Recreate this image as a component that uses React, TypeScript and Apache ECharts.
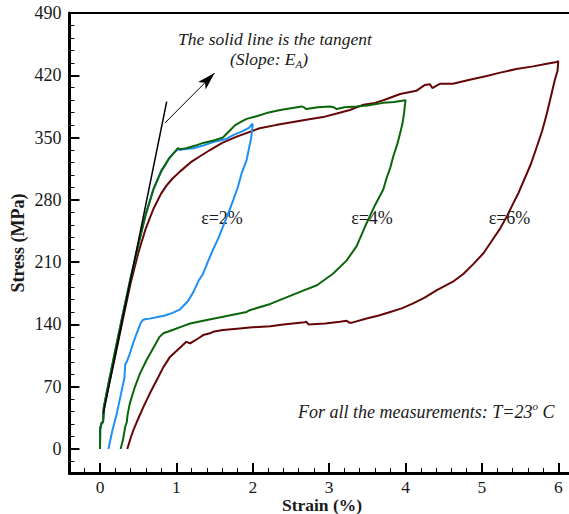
import React, { useEffect, useRef } from "react";
import * as echarts from "echarts";

// Strain (%) / Stress (MPa) pairs
const loop2Loading: [number, number][] = [
  [0, 0], [0.003, 22], [0.02, 29], [0.04, 31], [0.05, 47], [0.1, 69], [0.2, 111], [0.3, 152],
  [0.4, 192], [0.5, 229], [0.6, 264], [0.7, 292], [0.8, 312], [0.9, 326], [0.97, 333],
  [1.02, 337], [1.05, 336], [1.1, 337], [1.22, 338], [1.35, 341], [1.48, 345], [1.64, 348],
  [1.75, 353], [1.86, 357], [1.95, 361], [1.99, 365],
];
const loop2Unloading: [number, number][] = [
  [2.0, 365], [1.98, 350], [1.92, 325], [1.855, 310], [1.8, 293], [1.745, 280], [1.68, 265],
  [1.61, 250], [1.55, 237], [1.48, 224], [1.41, 210], [1.35, 197], [1.29, 189], [1.22, 176],
  [1.15, 166], [1.05, 157], [0.95, 153], [0.85, 150], [0.74, 148], [0.65, 146.5], [0.6, 146],
  [0.56, 145], [0.53, 141], [0.48, 130], [0.43, 118], [0.39, 107], [0.35, 98], [0.33, 95],
  [0.32, 80], [0.27, 60], [0.22, 40], [0.16, 20], [0.11, 0],
];
const loop4Loading: [number, number][] = [
  [0, 0], [0.003, 22], [0.02, 29], [0.04, 31], [0.05, 47], [0.1, 69], [0.2, 111], [0.3, 152],
  [0.4, 192], [0.5, 229], [0.6, 264], [0.7, 292], [0.8, 312], [0.9, 326], [0.97, 333],
  [1.02, 338], [1.05, 337], [1.13, 338], [1.25, 341], [1.35, 344], [1.5, 347], [1.61, 350],
  [1.7, 358], [1.77, 364], [1.85, 368], [1.92, 371], [2.05, 374], [2.18, 377.5], [2.36, 381],
  [2.5, 383], [2.64, 385], [2.67, 384], [2.7, 382], [2.85, 384], [3.01, 385], [3.06, 384],
  [3.1, 382], [3.2, 384], [3.36, 385], [3.5, 386], [3.71, 389], [3.85, 390], [4.0, 392],
];
const loop4Unloading: [number, number][] = [
  [4.0, 392], [3.99, 385], [3.98, 377], [3.96, 366], [3.93, 355], [3.89, 342], [3.84, 329],
  [3.8, 316], [3.75, 304], [3.71, 292], [3.6, 274], [3.47, 250], [3.36, 228], [3.23, 212],
  [3.05, 197], [2.84, 184], [2.66, 178], [2.4, 169], [2.23, 163], [1.96, 156], [1.92, 154],
  [1.61, 148.5], [1.4, 145], [1.18, 141], [1.05, 137], [0.96, 134], [0.83, 130], [0.78, 126],
  [0.74, 120], [0.61, 100], [0.524, 85], [0.45, 68], [0.39, 51], [0.36, 38], [0.35, 30],
  [0.33, 25], [0.3, 10], [0.27, 0],
];
const loop6Loading: [number, number][] = [
  [0, 0], [0, 23], [0.02, 29], [0.04, 30], [0.05, 46], [0.1, 66], [0.2, 105], [0.3, 146],
  [0.4, 186], [0.5, 220], [0.6, 248], [0.7, 270], [0.8, 287], [0.87, 296], [0.95, 304],
  [1.05, 312], [1.2, 323], [1.31, 329], [1.44, 336], [1.6, 344], [1.79, 351], [2.09, 360.5],
  [2.3, 364], [2.49, 367], [2.7, 370], [2.92, 373], [3.1, 377], [3.27, 381], [3.45, 387],
  [3.6, 389], [3.71, 392], [3.93, 399], [4.14, 402.5], [4.25, 409], [4.32, 410], [4.35, 405.6],
  [4.4, 408], [4.45, 410.4], [4.62, 410.4], [4.84, 415], [5.05, 419], [5.24, 423], [5.45, 427],
  [5.67, 430], [5.85, 433], [5.98, 435], [6.0, 436],
];
const loop6Unloading: [number, number][] = [
  [6.0, 436], [5.99, 425], [5.955, 415], [5.9, 395], [5.85, 377], [5.79, 358], [5.72, 340],
  [5.64, 320], [5.56, 304], [5.48, 288], [5.41, 276], [5.33, 262], [5.24, 248], [5.13, 234],
  [5.02, 220], [4.89, 208], [4.76, 197], [4.62, 188], [4.41, 178.6], [4.25, 170], [4.1, 163.6],
  [3.95, 158], [3.8, 154], [3.65, 150], [3.49, 146.7], [3.3, 142], [3.27, 141.8], [3.23, 144],
  [3.14, 143], [2.95, 141], [2.73, 140], [2.7, 143], [2.68, 142.5], [2.4, 140], [2.23, 138],
  [1.96, 136.6], [1.83, 135.5], [1.61, 133.6], [1.48, 131.7], [1.44, 130], [1.35, 128],
  [1.3, 125], [1.18, 118.6], [1.13, 120.4], [1.05, 114], [0.916, 103.5], [0.83, 92],
  [0.74, 77], [0.65, 62], [0.567, 47], [0.5, 34], [0.436, 21], [0.4, 12], [0.357, 0],
];
const tangentLine: [number, number][] = [[0.045, 40], [0.873, 390.5]];
const arrowFrom: [number, number] = [0.851, 366.5];
const arrowTo: [number, number] = [1.5, 422.5];

const xMajorTicks = [0, 1, 2, 3, 4, 5, 6];
const yMajorTicks = [0, 70, 140, 210, 280, 350, 420, 490];

const X_MIN = -0.4;
const X_MAX = 6.14;
const Y_MIN = -27;
const Y_MAX = 490;

const SERIF = '"Liberation Serif", "Times New Roman", serif';
const TXT = "#1a1a1a";

function minorValues(majors: number[], lo: number, hi: number, parts: number) {
  const step = (majors[1] - majors[0]) / parts;
  const out: number[] = [];
  const start = majors[0] - Math.ceil((majors[0] - lo) / step) * step;
  for (let v = start; v <= hi + 1e-9; v += step) {
    const r = Math.round(v * 1000) / 1000;
    if (r >= lo && r <= hi) out.push(r);
  }
  return out;
}

export default function App() {
  const ref = useRef<HTMLDivElement>(null);
  useEffect(() => {
    if (!ref.current) return;
    const chart = echarts.init(ref.current, undefined, { renderer: "svg" });
    const xMinor = minorValues(xMajorTicks, X_MIN, X_MAX, 5);
    const yMinor = minorValues(yMajorTicks, Y_MIN, Y_MAX, 5);
    const baseX = {
      type: "value",
      min: X_MIN,
      max: X_MAX,
      splitLine: { show: false },
    };
    const baseY = {
      type: "value",
      min: Y_MIN,
      max: Y_MAX,
      position: "left",
      splitLine: { show: false },
    };
    chart.setOption({
      animation: false,
      grid: {
        show: false,
        left: 69.45,
        right: 0,
        top: 13,
        bottom: 41,
      },
      xAxis: [
        {
          ...baseX,
          position: "bottom",
          axisLine: { onZero: false, lineStyle: { color: "#000", width: 3 } },
          axisTick: {
            inside: true,
            length: 10,
            customValues: xMajorTicks,
            lineStyle: { color: "#000", width: 2 },
          },
          axisLabel: {
            customValues: xMajorTicks,
            fontFamily: SERIF,
            fontSize: 17.5,
            lineHeight: 17,
            color: TXT,
            margin: 5,
          },
        },
        {
          ...baseX,
          position: "bottom",
          axisLine: { show: false, onZero: false },
          axisTick: {
            inside: true,
            length: 5,
            customValues: xMinor,
            lineStyle: { color: "#000", width: 1 },
          },
          axisLabel: { show: false },
        },
        {
          ...baseX,
          position: "top",
          axisLine: { show: true, onZero: false, lineStyle: { color: "#000", width: 2 } },
          axisTick: { show: false },
          axisLabel: { show: false },
        },
      ],
      yAxis: [
        {
          ...baseY,
          axisLine: { onZero: false, lineStyle: { color: "#000", width: 3 } },
          axisTick: {
            inside: true,
            length: 10,
            customValues: yMajorTicks,
            lineStyle: { color: "#000", width: 2 },
          },
          axisLabel: {
            customValues: yMajorTicks,
            fontFamily: SERIF,
            fontSize: 18,
            color: TXT,
            margin: 8,
          },
        },
        {
          ...baseY,
          axisLine: { show: false, onZero: false },
          axisTick: {
            inside: true,
            length: 5,
            customValues: yMinor,
            lineStyle: { color: "#000", width: 1 },
          },
          axisLabel: { show: false },
        },
      ],
      series: [
        {
          name: "ε=6%",
          type: "line",
          data: [...loop6Loading, ...loop6Unloading],
          showSymbol: false,
          lineStyle: { color: "#650505", width: 2 },
          z: 2,
        },
        {
          name: "ε=2%",
          type: "line",
          data: [...loop2Loading, ...loop2Unloading],
          showSymbol: false,
          lineStyle: { color: "#1e8ff5", width: 2 },
          z: 3,
        },
        {
          name: "ε=4%",
          type: "line",
          data: [...loop4Loading, ...loop4Unloading],
          showSymbol: false,
          lineStyle: { color: "#0b650b", width: 2 },
          z: 4,
        },
        {
          name: "tangent",
          type: "line",
          data: tangentLine,
          showSymbol: false,
          lineStyle: { color: "#000", width: 1.5 },
          z: 5,
          markLine: {
            silent: true,
            symbol: ["none", "arrow"],
            symbolSize: [8, 18],
            lineStyle: { color: "#000", width: 1, type: "solid" },
            label: { show: false },
            data: [[{ coord: arrowFrom }, { coord: arrowTo }]],
          },
        },
      ],
      graphic: [
        {
          type: "text",
          x: 18,
          y: 243,
          rotation: Math.PI / 2,
          style: {
            text: "Stress (MPa)",
            align: "center",
            verticalAlign: "middle",
            font: `bold 18px ${SERIF}`,
            fill: TXT,
          },
        },
        {
          type: "text",
          x: 322,
          y: 505,
          style: {
            text: "Strain (%)",
            align: "center",
            verticalAlign: "middle",
            font: `bold 17.5px ${SERIF}`,
            lineHeight: 16,
            fill: TXT,
          },
        },
        {
          type: "text",
          x: 275,
          y: 39,
          style: {
            text: "The solid line is the tangent",
            align: "center",
            verticalAlign: "middle",
            font: `italic 17.5px ${SERIF}`,
            fill: TXT,
          },
        },
        {
          type: "text",
          x: 269,
          y: 59,
          style: {
            text: "(Slope: E{sub|A})",
            align: "center",
            verticalAlign: "middle",
            font: `italic 17.5px ${SERIF}`,
            lineHeight: 21,
            fill: TXT,
            rich: {
              sub: {
                font: `italic 11px ${SERIF}`,
                fill: TXT,
                verticalAlign: "bottom",
                lineHeight: 11,
              },
            },
          },
        },
        {
          type: "text",
          x: 222,
          y: 218,
          style: { text: "ε=2%", align: "center", verticalAlign: "middle", font: `18px ${SERIF}`, fill: TXT },
        },
        {
          type: "text",
          x: 372,
          y: 218,
          style: { text: "ε=4%", align: "center", verticalAlign: "middle", font: `18px ${SERIF}`, fill: TXT },
        },
        {
          type: "text",
          x: 509.5,
          y: 218,
          style: { text: "ε=6%", align: "center", verticalAlign: "middle", font: `18px ${SERIF}`, fill: TXT },
        },
        {
          type: "text",
          x: 298,
          y: 412,
          style: {
            text: "For all the measurements: T=23{sup|o} C",
            align: "left",
            verticalAlign: "middle",
            font: `italic 18px ${SERIF}`,
            lineHeight: 24,
            fill: TXT,
            rich: {
              sup: {
                font: `italic 11px ${SERIF}`,
                fill: TXT,
                verticalAlign: "top",
                lineHeight: 11,
              },
            },
          },
        },
      ],
    });
    return () => chart.dispose();
  }, []);
  return (
    <div
      ref={ref}
      style={{ position: "absolute", left: 0, top: 0, width: 569, height: 514 }}
    />
  );
}
